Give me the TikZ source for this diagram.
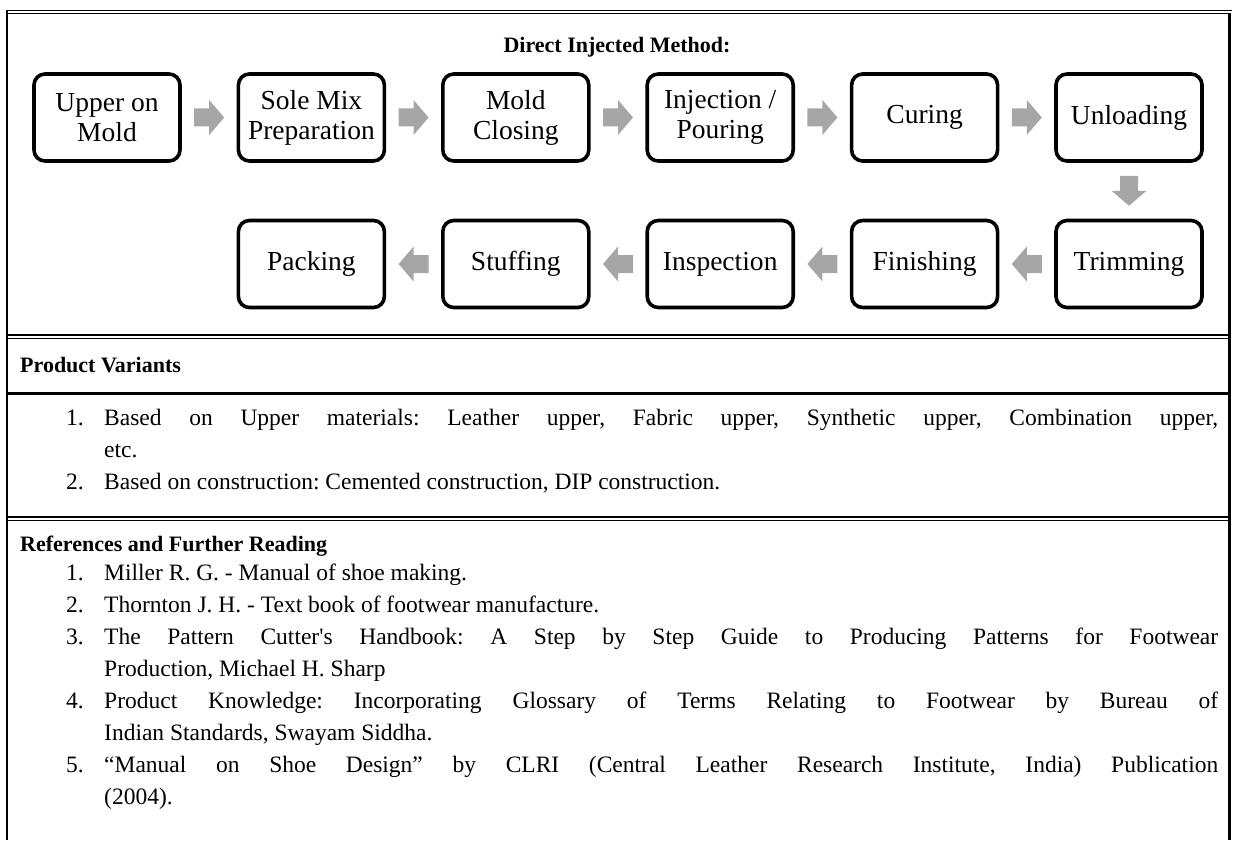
\documentclass[tikz,border=0pt]{standalone}
\usepackage{fontspec}
\setmainfont{Liberation Serif}
\usetikzlibrary{calc}

\definecolor{arrowgray}{HTML}{A6A6A6}
\newcommand{\boxfont}{\fontsize{27.5}{30}\selectfont}
\newcommand{\headfont}{\fontsize{22}{32}\selectfont\bfseries}
\newcommand{\bodyfont}{\fontsize{23.5}{32}\selectfont}
\hyphenpenalty=10000
\exhyphenpenalty=10000
\tolerance=9999
\frenchspacing

\tikzset{
  flowarrow/.pic={
    \fill[arrowgray] (-15,-9) -- (0,-9) -- (0,-17.5) -- (15,0) -- (0,17.5) -- (0,9) -- (-15,9) -- cycle;
  }
}

\begin{document}
\begin{tikzpicture}[x=1pt, y=-1pt,
  stepbox/.style={draw, line width=3.6pt, rounded corners=11pt, minimum width=146pt,
    minimum height=87pt, align=center, font=\boxfont, inner sep=2pt},
  head/.style={font=\headfont, anchor=base west, inner sep=0pt},
  numtxt/.style={font=\bodyfont, anchor=base west, inner sep=0pt},
  itemtxt/.style={font=\bodyfont, anchor=base west, inner sep=0pt, text width=1114pt, align=justify}]
  \useasboundingbox (0,0) rectangle (1233,840);

  % Frame
  \draw[line width=1.8pt] (6,10.5) -- (1232,10.5);
  \draw[line width=1.2pt] (7,13.8) -- (1229,13.8);
  \draw[line width=1.6pt] (7,10) -- (7,840);
  \draw[line width=3pt] (1229.8,13) -- (1229.8,840);
  \draw[line width=1.2pt] (7,335) -- (1230,335);
  \draw[line width=1.6pt] (7,338.5) -- (1230,338.5);
  \draw[line width=3pt] (7,393) -- (1230,393);
  \draw[line width=1.2pt] (7,517) -- (1230,517);
  \draw[line width=1.6pt] (7,520.5) -- (1230,520.5);

  % Process flow
  \node[head, anchor=base] (title) at (617,53) {Direct Injected Method:};

  \node[stepbox] (upper) at (107,117.5) {Upper on\\Mold};
  \node[stepbox] (solemix) at (311.4,117.5) {Sole Mix\\Preparation};
  \node[stepbox] (closing) at (515.8,117.5) {Mold\\Closing};
  \node[stepbox] (inject) at (720.2,117.5) {Injection /\\Pouring};
  \node[stepbox] (curing) at (924.6,117.5) {Curing};
  \node[stepbox] (unload) at (1129,117.5) {Unloading};

  \node[stepbox] (trim) at (1129,264) {Trimming};
  \node[stepbox] (finish) at (924.6,264) {Finishing};
  \node[stepbox] (inspect) at (720.2,264) {Inspection};
  \node[stepbox] (stuff) at (515.8,264) {Stuffing};
  \node[stepbox] (pack) at (311.4,264) {Packing};

  \pic at ($(upper)!0.5!(solemix)$) {flowarrow};
  \pic at ($(solemix)!0.5!(closing)$) {flowarrow};
  \pic at ($(closing)!0.5!(inject)$) {flowarrow};
  \pic at ($(inject)!0.5!(curing)$) {flowarrow};
  \pic at ($(curing)!0.5!(unload)$) {flowarrow};
  \pic[rotate=-90] at ($(unload)!0.5!(trim)$) {flowarrow};
  \pic[rotate=180] at ($(trim)!0.5!(finish)$) {flowarrow};
  \pic[rotate=180] at ($(finish)!0.5!(inspect)$) {flowarrow};
  \pic[rotate=180] at ($(inspect)!0.5!(stuff)$) {flowarrow};
  \pic[rotate=180] at ($(stuff)!0.5!(pack)$) {flowarrow};

  % Product variants
  \node[head] (pvhead) at (20,372) {Product Variants};
  \node[numtxt] (pvnum1) at (66,425) {1.};
  \node[itemtxt] (pvitem1) at (104,425) {Based on Upper materials: Leather upper, Fabric upper, Synthetic upper, Combination upper,\linebreak etc.};
  \node[numtxt] (pvnum2) at (66,489) {2.};
  \node[itemtxt] (pvitem2) at (104,489) {Based on construction: Cemented construction, DIP construction.};

  % References
  \node[head] (refhead) at (20,551) {References and Further Reading};
  \node[numtxt] (refnum1) at (66,580) {1.};
  \node[itemtxt] (ref1) at (104,580) {Miller R. G. - Manual of shoe making.};
  \node[numtxt] (refnum2) at (66,612) {2.};
  \node[itemtxt] (ref2) at (104,612) {Thornton J. H. - Text book of footwear manufacture.};
  \node[numtxt] (refnum3) at (66,644) {3.};
  \node[itemtxt] (ref3) at (104,644) {The Pattern Cutter\textquotesingle s Handbook: A Step by Step Guide to Producing Patterns for Footwear\linebreak Production, Michael H. Sharp};
  \node[numtxt] (refnum4) at (66,708) {4.};
  \node[itemtxt] (ref4) at (104,708) {Product Knowledge: Incorporating Glossary of Terms Relating to Footwear by Bureau of\linebreak Indian Standards, Swayam Siddha.};
  \node[numtxt] (refnum5) at (66,772) {5.};
  \node[itemtxt] (ref5) at (104,772) {“Manual on Shoe Design” by CLRI (Central Leather Research Institute, India) Publication\linebreak (2004).};
\end{tikzpicture}
\end{document}
